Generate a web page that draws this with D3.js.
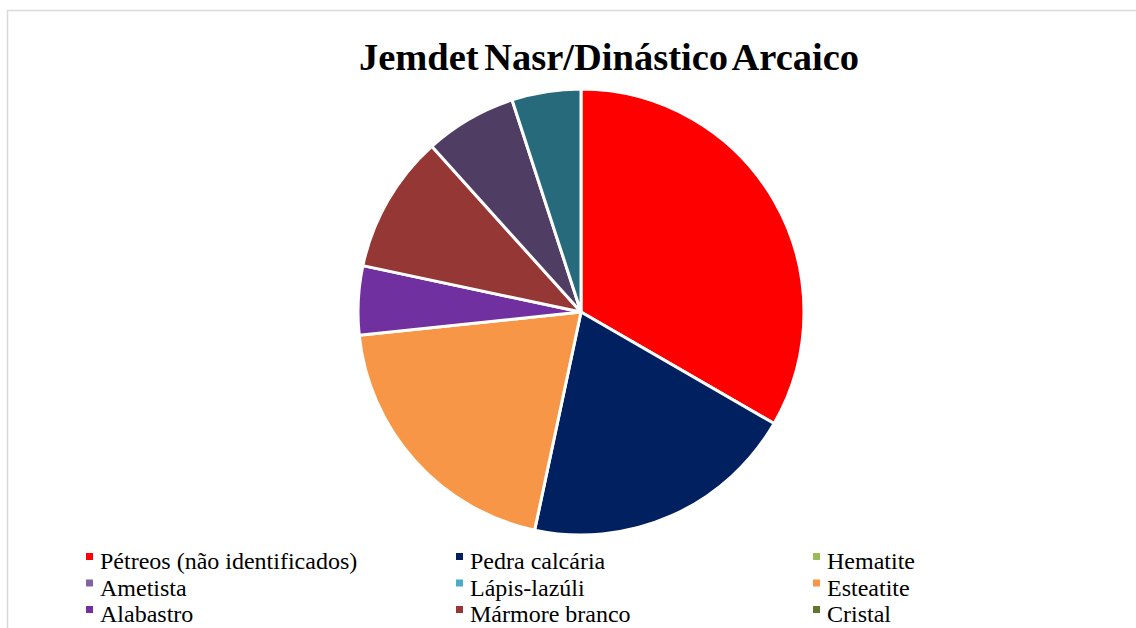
<!DOCTYPE html>
<html>
<head>
<meta charset="utf-8">
<script src="https://cdn.jsdelivr.net/npm/d3@7"></script>
<style>
  html, body { margin: 0; padding: 0; background: #fff; overflow: hidden; }
  svg { display: block; }
</style>
</head>
<body>
<svg width="1136" height="628"></svg>
<script>
// categories in legend order; the last two slices have their legend rows cut off below the picture
const categories = ["Pétreos (não identificados)", "Pedra calcária", "Hematite",
  "Ametista", "Lápis-lazúli", "Esteatite",
  "Alabastro", "Mármore branco", "Cristal",
  null, null];
const values = [20, 12, 0, 0, 0, 12, 3, 6, 0, 4, 3];
const colors = ["#FF0000", "#002060", "#9BBB59",
  "#8064A2", "#4BACC6", "#F79646",
  "#7030A0", "#953735", "#5F7530",
  "#4F3D63", "#276A7B"];
const title = "Jemdet Nasr/Dinástico Arcaico";

const serif = "'Liberation Serif', 'Times New Roman', serif";
const svg = d3.select("svg");

// chart area border
svg.append("rect")
  .attr("x", 7.5).attr("y", 10.5)
  .attr("width", 1140).attr("height", 640)
  .attr("fill", "none")
  .attr("stroke", "#d9d9d9")
  .attr("stroke-width", 1.5);

svg.append("text")
  .attr("x", 609).attr("y", 70)
  .attr("text-anchor", "middle")
  .attr("font-family", serif)
  .attr("font-weight", "bold")
  .attr("font-size", 38.5)
  .attr("word-spacing", -4)
  .attr("fill", "#000")
  .text(title);

const data = categories.map((c, i) => ({ name: c, value: values[i], color: colors[i] }));

const pie = d3.pie().sort(null).value(d => d.value);
const arc = d3.arc().innerRadius(0).outerRadius(223);

const g = svg.append("g").attr("transform", "translate(581,312)");
g.selectAll("path")
  .data(pie(data).filter(d => d.data.value > 0))
  .enter().append("path")
  .attr("d", arc)
  .attr("fill", d => d.data.color)
  .attr("stroke", "#fff")
  .attr("stroke-width", 3)
  .attr("stroke-linejoin", "round");

// legend, 3 columns
const colX = [86, 456, 813];
const rowY = 569;
const rowH = 26.5;
const legend = svg.append("g");
data.filter(d => d.name).forEach((d, i) => {
  const x = colX[i % 3];
  const y = rowY + Math.floor(i / 3) * rowH;
  legend.append("rect")
    .attr("x", x).attr("y", y - 16)
    .attr("width", 7).attr("height", 7)
    .attr("fill", d.color);
  legend.append("text")
    .attr("x", x + 14).attr("y", y)
    .attr("font-family", serif)
    .attr("font-size", 24)
    .attr("fill", "#000")
    .text(d.name);
});
</script>
</body>
</html>
